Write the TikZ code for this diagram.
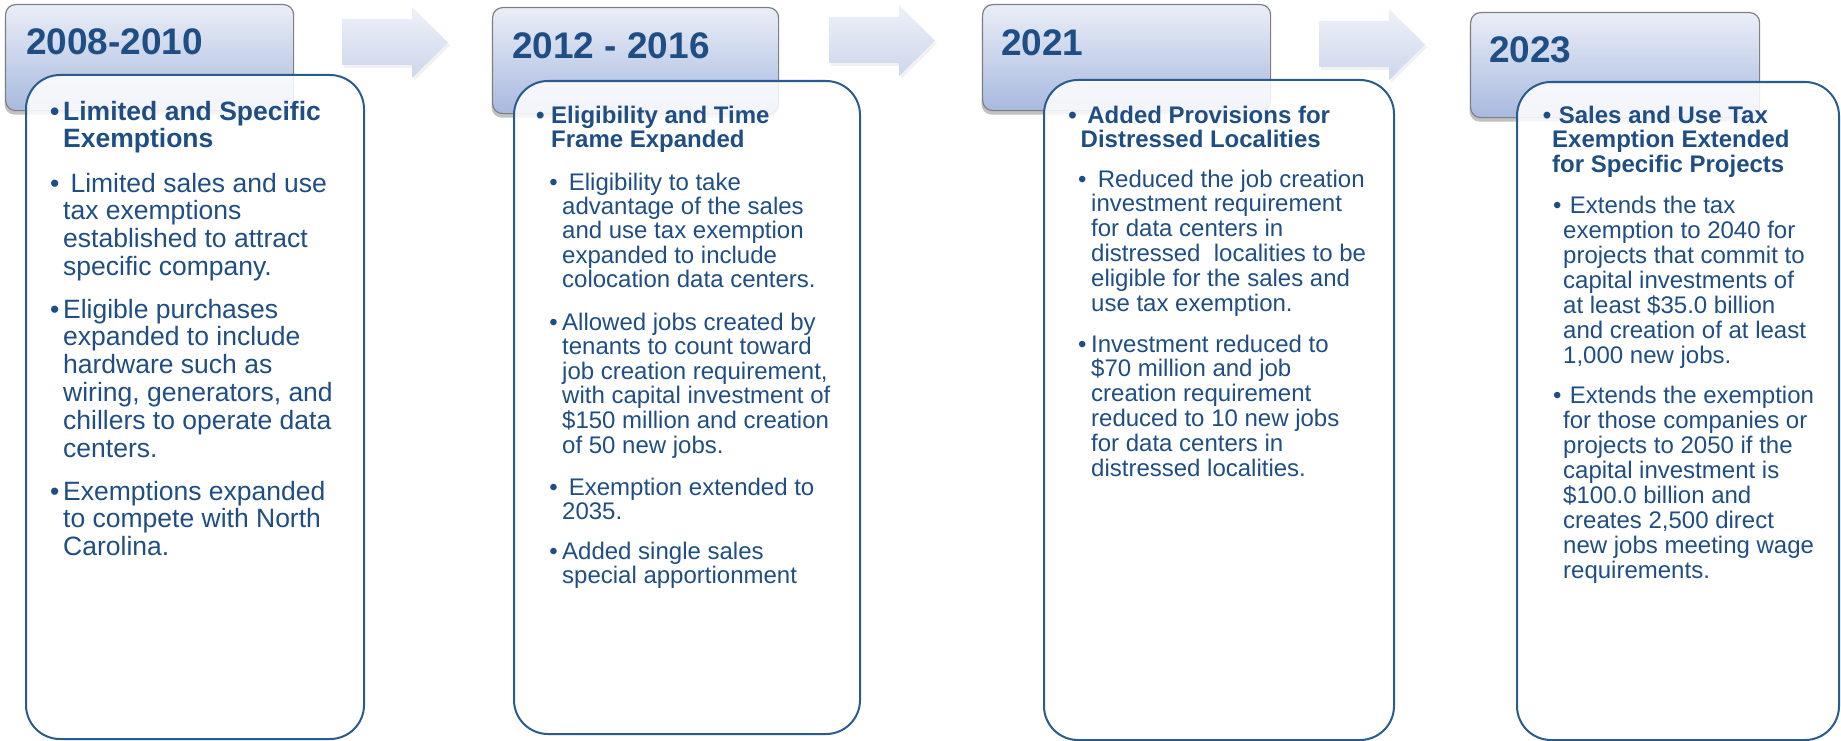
\documentclass[tikz,border=0pt]{standalone}
\usepackage{fontspec}
\setmainfont{Liberation Sans}
\usetikzlibrary{shadows}

\definecolor{ink}{HTML}{1F4E85}
\definecolor{cardline}{HTML}{2A5B8F}
\definecolor{hdrtop}{HTML}{EAEEF7}
\definecolor{hdrbot}{HTML}{A8B9DF}
\definecolor{hdrline}{HTML}{808080}
\definecolor{arrtop}{HTML}{EEF1F8}
\definecolor{arrbot}{HTML}{CDD6EC}

% one printed line of a paragraph
\newcommand\tline[1]{\hbox{#1}}
% hanging bullet in front of the first line
\newcommand\bulx[1]{\llap{\textbullet\hspace{#1}}}
% stack of lines whose baseline is the first line
\newcommand\para[2]{\vtop{\baselineskip=#1\relax\lineskiplimit=-1000bp #2}}

\tikzset{
  hdr/.style={draw=hdrline, line width=1.2bp, rounded corners=10bp,
    top color=hdrtop, bottom color=hdrbot, anchor=north west, inner sep=0pt,
    drop shadow={shadow xshift=-1bp, shadow yshift=-4bp, opacity=.35, fill=black!70}},
  card/.style={draw=cardline, line width=2bp, rounded corners=34bp,
    fill=white, fill opacity=.86, anchor=north west, inner sep=0pt},
  arrowfill/.style={top color=arrtop, bottom color=arrbot,
    drop shadow={shadow xshift=2bp, shadow yshift=-3bp, opacity=.09, fill=black!60}},
  year/.style={inner sep=0pt, anchor=base west, text=ink,
    font=\fontsize{37bp}{40bp}\selectfont\bfseries},
  txt/.style={inner sep=0pt, anchor=base west, text=ink},
  big/.style={font=\fontsize{26.5bp}{27.8bp}\selectfont},
  small/.style={font=\fontsize{24bp}{24.6bp}\selectfont},
}

\begin{document}
\begin{tikzpicture}[x=1bp, y=-1bp]
\useasboundingbox (0,0) rectangle (1841,741);

% period headers
\node[hdr, minimum width=288bp, minimum height=106bp] (h1) at (5,4) {};
\node[hdr, minimum width=286bp, minimum height=106bp] (h2) at (492,7) {};
\node[hdr, minimum width=288bp, minimum height=106bp] (h3) at (982,4) {};
\node[hdr, minimum width=289bp, minimum height=105bp] (h4) at (1470,12) {};

% detail cards
\node[card, minimum width=338bp, minimum height=664bp] (c1) at (25,74) {};
\node[card, minimum width=346bp, minimum height=653bp] (c2) at (513,80) {};
\node[card, minimum width=350bp, minimum height=660bp] (c3) at (1043,79) {};
\node[card, minimum width=322bp, minimum height=658bp] (c4) at (1516,81) {};

% block arrows between the periods
\foreach \ax/\ay in {342/0, 829/-2, 1319/2}{
  \path[arrowfill, shift={(\ax,\ay)}]
    (0,19) -- (70,19) -- (70,7) -- (106,42.5) -- (70,78) -- (70,65) -- (0,65) -- cycle;
}

% years
\node[year] (y1) at (26,55) {2008-2010};
\node[year] (y2) at (512,59) {2012 - 2016};
\node[year] (y3) at (1001,56) {2021};
\node[year] (y4) at (1489,63) {2023};

% 2008-2010
\node[txt,big] (c1h) at (63,120) {\para{27.8bp}{\bfseries
  \tline{\bulx{3.7bp}Limited and Specific}
  \tline{Exemptions}}};
\node[txt,big] (c1a) at (63,192) {\para{27.8bp}{
  \tline{\bulx{3.7bp}\ Limited sales and use}
  \tline{tax exemptions}
  \tline{established to attract}
  \tline{specific company.}}};
\node[txt,big] (c1b) at (63,318) {\para{27.8bp}{
  \tline{\bulx{3.7bp}Eligible purchases}
  \tline{expanded to include}
  \tline{hardware such as}
  \tline{wiring, generators, and}
  \tline{chillers to operate data}
  \tline{centers.}}};
\node[txt,big] (c1c) at (63,500) {\para{27.8bp}{
  \tline{\bulx{3.7bp}Exemptions expanded}
  \tline{to compete with North}
  \tline{Carolina.}}};

% 2012 - 2016
\node[txt,small] (c2h) at (551,123) {\para{24bp}{\bfseries
  \tline{\bulx{6.6bp}Eligibility and Time}
  \tline{Frame Expanded}}};
\node[txt,small] (c2a) at (562,190) {\para{24.4bp}{
  \tline{\bulx{4.5bp}\ Eligibility to take}
  \tline{advantage of the sales}
  \tline{and use tax exemption}
  \tline{expanded to include}
  \tline{colocation data centers.}}};
\node[txt,small] (c2b) at (562,330) {\para{24.6bp}{
  \tline{\bulx{4.5bp}Allowed jobs created by}
  \tline{tenants to count toward}
  \tline{job creation requirement,}
  \tline{with capital investment of}
  \tline{\$150 million and creation}
  \tline{of 50 new jobs.}}};
\node[txt,small] (c2c) at (562,495) {\para{24.4bp}{
  \tline{\bulx{4.5bp}\ Exemption extended to}
  \tline{2035.}}};
\node[txt,small] (c2d) at (562,559) {\para{24.4bp}{
  \tline{\bulx{4.5bp}Added single sales}
  \tline{special apportionment}}};

% 2021
\node[txt,small] (c3h) at (1080.5,123) {\para{24bp}{\bfseries
  \tline{\bulx{4bp}\ Added Provisions for}
  \tline{Distressed Localities}}};
\node[txt,small] (c3a) at (1091,187) {\para{24.9bp}{
  \tline{\bulx{4.6bp}\ Reduced the job creation}
  \tline{investment requirement}
  \tline{for data centers in}
  \tline{distressed \ localities to be}
  \tline{eligible for the sales and}
  \tline{use tax exemption.}}};
\node[txt,small] (c3b) at (1091,352) {\para{24.8bp}{
  \tline{\bulx{4.6bp}Investment reduced to}
  \tline{\$70 million and job}
  \tline{creation requirement}
  \tline{reduced to 10 new jobs}
  \tline{for data centers in}
  \tline{distressed localities.}}};

% 2023
\node[txt,small] (c4h) at (1552,123) {\para{24.5bp}{\bfseries
  \tline{\bulx{1bp}\ Sales and Use Tax}
  \tline{Exemption Extended}
  \tline{for Specific Projects}}};
\node[txt,small] (c4a) at (1563,213) {\para{25bp}{
  \tline{\bulx{1.6bp}\ Extends the tax}
  \tline{exemption to 2040 for}
  \tline{projects that commit to}
  \tline{capital investments of}
  \tline{at least \$35.0 billion}
  \tline{and creation of at least}
  \tline{1,000 new jobs.}}};
\node[txt,small] (c4b) at (1563,403) {\para{25bp}{
  \tline{\bulx{1.6bp}\ Extends the exemption}
  \tline{for those companies or}
  \tline{projects to 2050 if the}
  \tline{capital investment is}
  \tline{\$100.0 billion and}
  \tline{creates 2,500 direct}
  \tline{new jobs meeting wage}
  \tline{requirements.}}};
\end{tikzpicture}
\end{document}
